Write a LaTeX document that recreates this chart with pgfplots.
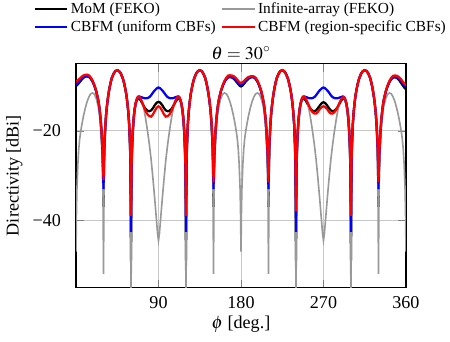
\documentclass[border=0pt]{standalone}
\usepackage{mathptmx}
\usepackage[no-math]{fontspec}
\setmainfont{Liberation Serif}
\usepackage{pgfplots}
\usepackage{pgfplotstable}
\pgfplotsset{compat=1.18}
\pgfplotstableread{
phi K G B R
0 -9.9 -47 -9.65 -9.0
0.5 -9.85 -38 -9.6 -8.95
1 -9.8 -33 -9.55 -8.9
2 -9.55 -27.5 -9.35 -8.7
3 -9.3 -24 -9.1 -8.5
4 -9.05 -21.8 -8.85 -8.3
5 -8.8 -20.3 -8.6 -8.1
6 -8.55 -19 -8.4 -7.9
8 -8.1 -16.8 -8.05 -7.6
10 -7.85 -15 -7.85 -7.45
12 -7.7 -13.5 -7.8 -7.4
14 -7.8 -12.4 -7.9 -7.55
16 -8.2 -11.7 -8.3 -8.0
18 -8.85 -11.5 -8.95 -8.7
20 -9.8 -11.8 -9.9 -9.7
22 -11.1 -12.7 -11.15 -11.0
24 -12.9 -14.3 -12.9 -12.8
25 -14.1 -15.5 -14.1 -14.0
26 -15.8 -17.2 -15.7 -15.6
27 -17.9 -19.6 -17.8 -17.6
28 -21.0 -23.2 -20.8 -20.5
29 -25.5 -29 -25.0 -24.5
29.5 -29.5 -34.5 -28.5 -27.5
30 -37 -52 -33 -31
30.5 -28 -33 -27 -26
31 -23.5 -26 -23 -22.5
32 -19 -19.5 -18.8 -18.5
33 -16 -16.3 -15.9 -15.8
34 -14 -14.2 -14 -13.9
35 -12.4 -12.5 -12.35 -12.3
36 -11.05 -11.1 -11.05 -11.0
37 -9.95 -10 -9.95 -9.9
38 -9.0 -9.05 -9.0 -9.0
39 -8.2 -8.25 -8.2 -8.2
41 -7.2 -7.2 -7.2 -7.2
43 -6.6 -6.6 -6.6 -6.6
45 -6.4 -6.4 -6.4 -6.4
47 -6.6 -6.6 -6.6 -6.6
49 -7.2 -7.2 -7.2 -7.2
51 -8.2 -8.2 -8.2 -8.2
52 -8.9 -8.95 -8.9 -8.9
53 -9.8 -9.85 -9.8 -9.8
54 -10.8 -10.9 -10.8 -10.8
55 -12.0 -12.1 -12.0 -12.0
56 -13.65 -13.7 -13.65 -13.6
57 -15.7 -15.8 -15.7 -15.6
58 -18.6 -18.9 -18.5 -18.4
59 -24 -25 -23.5 -23
59.5 -31 -33 -29.5 -28
60 -49 -62 -42.6 -39
60.5 -32 -36 -30 -29
61 -25 -28 -24.5 -24
62 -20 -22 -19.8 -19.5
63 -17 -18.6 -17 -16.8
64 -15.2 -16.3 -15.1 -15.0
65 -14 -14.7 -13.9 -13.8
66 -13.3 -13.6 -13.1 -13.0
67 -12.9 -12.9 -12.6 -12.5
68 -12.8 -12.5 -12.35 -12.3
69 -12.85 -12.3 -12.3 -12.35
70 -13.0 -12.4 -12.35 -12.6
72 -13.7 -13.3 -12.5 -13.5
74 -14.5 -15 -12.65 -14.6
76 -15.1 -17.3 -12.7 -15.6
78 -15.5 -20 -12.65 -16.3
80 -15.6 -23 -12.45 -16.7
82 -15.4 -26.5 -12.0 -16.8
84 -14.9 -30.8 -11.4 -16.3
86 -14.2 -35.5 -10.9 -15.5
88 -13.7 -40.5 -10.5 -14.8
89 -13.55 -43 -10.35 -14.6
90 -13.5 -44.5 -10.3 -14.5
91 -13.55 -43 -10.35 -14.6
92 -13.7 -40.5 -10.5 -14.8
94 -14.2 -35.5 -10.9 -15.5
96 -14.9 -30.8 -11.4 -16.3
98 -15.4 -26.5 -12.0 -16.8
100 -15.6 -23 -12.45 -16.7
102 -15.5 -20 -12.65 -16.3
104 -15.1 -17.3 -12.7 -15.6
106 -14.5 -15 -12.65 -14.6
108 -13.7 -13.3 -12.5 -13.5
110 -13.0 -12.4 -12.35 -12.6
111 -12.85 -12.3 -12.3 -12.35
112 -12.8 -12.5 -12.35 -12.3
113 -12.9 -12.9 -12.6 -12.5
114 -13.3 -13.6 -13.1 -13.0
115 -14 -14.7 -13.9 -13.8
116 -15.2 -16.3 -15.1 -15.0
117 -17 -18.6 -17 -16.8
118 -20 -22 -19.8 -19.5
119 -25 -28 -24.5 -24
119.5 -32 -36 -30 -29
120 -49 -62 -42.6 -39
120.5 -31 -33 -29.5 -28
121 -24 -25 -23.5 -23
122 -18.6 -18.9 -18.5 -18.4
123 -15.7 -15.8 -15.7 -15.6
124 -13.65 -13.7 -13.65 -13.6
125 -12.0 -12.1 -12.0 -12.0
126 -10.8 -10.9 -10.8 -10.8
127 -9.8 -9.85 -9.8 -9.8
128 -8.9 -8.95 -8.9 -8.9
129 -8.2 -8.2 -8.2 -8.2
131 -7.2 -7.2 -7.2 -7.2
133 -6.6 -6.6 -6.6 -6.6
135 -6.4 -6.4 -6.4 -6.4
137 -6.6 -6.6 -6.6 -6.6
139 -7.2 -7.2 -7.2 -7.2
141 -8.2 -8.25 -8.2 -8.2
142 -9.0 -9.05 -9.0 -9.0
143 -9.95 -10 -9.95 -9.9
144 -11.05 -11.1 -11.05 -11.0
145 -12.4 -12.5 -12.35 -12.3
146 -14 -14.2 -14 -13.9
147 -16 -16.3 -15.9 -15.8
148 -19 -19.5 -18.8 -18.5
149 -23.5 -26 -23 -22.5
149.5 -28 -33 -27 -26
150 -37 -52 -33 -31.5
150.5 -29.5 -34.5 -28.5 -27.5
151 -25.5 -29 -25.0 -24.5
152 -21.0 -23.2 -20.8 -20.5
153 -17.9 -19.6 -17.8 -17.6
154 -15.8 -17.2 -15.7 -15.6
155 -14.1 -15.5 -14.1 -14.0
156 -12.9 -14.3 -12.9 -12.8
158 -11.15 -12.7 -11.2 -11.05
160 -9.9 -11.8 -10.0 -9.8
162 -8.95 -11.5 -9.05 -8.8
164 -8.3 -11.7 -8.4 -8.1
166 -7.9 -12.4 -8.0 -7.6
168 -7.85 -13.5 -7.95 -7.55
170 -8.0 -15 -8.0 -7.6
172 -8.3 -16.8 -8.2 -7.75
174 -8.75 -19 -8.55 -8.1
175 -9.0 -20.3 -8.8 -8.3
176 -9.25 -21.8 -9.05 -8.55
177 -9.5 -24 -9.3 -8.8
178 -9.75 -27.5 -9.5 -9.0
179 -9.95 -33 -9.65 -9.2
179.5 -10.0 -38 -9.7 -9.25
180 -10.05 -47 -9.75 -9.3
180.5 -10.0 -38 -9.7 -9.25
181 -9.95 -33 -9.65 -9.2
182 -9.75 -27.5 -9.5 -9.05
183 -9.5 -24 -9.3 -8.85
184 -9.25 -21.8 -9.05 -8.65
185 -9.0 -20.3 -8.8 -8.45
186 -8.75 -19 -8.55 -8.25
188 -8.35 -16.8 -8.25 -7.95
190 -8.05 -15 -8.05 -7.8
192 -7.9 -13.5 -7.95 -7.75
194 -7.95 -12.4 -8.0 -7.8
196 -8.3 -11.7 -8.35 -8.1
198 -8.95 -11.5 -9.0 -8.75
200 -9.85 -11.8 -9.95 -9.75
202 -11.1 -12.7 -11.15 -11.0
204 -12.9 -14.3 -12.9 -12.8
205 -14.1 -15.5 -14.1 -14.0
206 -15.8 -17.2 -15.7 -15.6
207 -17.9 -19.6 -17.8 -17.6
208 -21.0 -23.2 -20.8 -20.5
209 -25.5 -29 -25.0 -24.5
209.5 -29.5 -34.5 -28.5 -27.5
210 -37 -52 -33 -31.5
210.5 -28 -33 -27 -26
211 -23.5 -26 -23 -22.5
212 -19 -19.5 -18.8 -18.5
213 -16 -16.3 -15.9 -15.8
214 -14 -14.2 -14 -13.9
215 -12.4 -12.5 -12.35 -12.3
216 -11.05 -11.1 -11.05 -11.0
217 -9.95 -10 -9.95 -9.9
218 -9.0 -9.05 -9.0 -9.0
219 -8.2 -8.25 -8.2 -8.2
221 -7.2 -7.2 -7.2 -7.2
223 -6.6 -6.6 -6.6 -6.6
225 -6.4 -6.4 -6.4 -6.4
227 -6.6 -6.6 -6.6 -6.6
229 -7.2 -7.2 -7.2 -7.2
231 -8.2 -8.2 -8.2 -8.2
232 -8.9 -8.95 -8.9 -8.9
233 -9.8 -9.85 -9.8 -9.8
234 -10.8 -10.9 -10.8 -10.8
235 -12.0 -12.1 -12.0 -12.0
236 -13.65 -13.7 -13.65 -13.6
237 -15.7 -15.8 -15.7 -15.6
238 -18.6 -18.9 -18.5 -18.4
239 -24 -25 -23.5 -23
239.5 -31 -33 -29.5 -28
240 -49 -62 -42.6 -38
240.5 -32 -36 -30 -29
241 -25 -28 -24.5 -24
242 -20 -22 -19.8 -19.5
243 -17 -18.6 -17 -16.8
244 -15.2 -16.3 -15.1 -15.0
245 -14 -14.7 -13.9 -13.8
246 -13.3 -13.6 -13.1 -13.0
247 -12.9 -12.9 -12.6 -12.5
248 -12.8 -12.5 -12.35 -12.3
249 -12.85 -12.3 -12.3 -12.35
250 -13.0 -12.4 -12.35 -12.55
252 -13.7 -13.3 -12.5 -13.3
254 -14.5 -15 -12.65 -14.3
256 -15.1 -17.3 -12.7 -15.2
258 -15.5 -20 -12.65 -15.8
260 -15.6 -23 -12.45 -16.1
262 -15.4 -26.5 -12.0 -16.1
264 -14.9 -30.8 -11.4 -15.7
266 -14.3 -35.5 -10.9 -15.1
268 -13.8 -40.5 -10.5 -14.7
269 -13.65 -43 -10.35 -14.55
270 -13.6 -44.5 -10.3 -14.5
271 -13.65 -43 -10.35 -14.55
272 -13.8 -40.5 -10.5 -14.7
274 -14.3 -35.5 -10.9 -15.1
276 -14.9 -30.8 -11.4 -15.7
278 -15.4 -26.5 -12.0 -16.1
280 -15.6 -23 -12.45 -16.1
282 -15.5 -20 -12.65 -15.8
284 -15.1 -17.3 -12.7 -15.2
286 -14.5 -15 -12.65 -14.4
288 -13.7 -13.3 -12.5 -13.5
290 -13.0 -12.4 -12.35 -12.7
291 -12.85 -12.3 -12.3 -12.5
292 -12.8 -12.5 -12.35 -12.45
293 -12.9 -12.9 -12.6 -12.6
294 -13.3 -13.6 -13.1 -13.05
295 -14 -14.7 -13.9 -13.85
296 -15.2 -16.3 -15.1 -15.0
297 -17 -18.6 -17 -16.8
298 -20 -22 -19.8 -19.5
299 -25 -28 -24.5 -24
299.5 -32 -36 -30 -29
300 -49 -62 -42.6 -39
300.5 -31 -33 -29.5 -28
301 -24 -25 -23.5 -23
302 -18.6 -18.9 -18.5 -18.4
303 -15.7 -15.8 -15.7 -15.6
304 -13.65 -13.7 -13.65 -13.6
305 -12.0 -12.1 -12.0 -12.0
306 -10.8 -10.9 -10.8 -10.8
307 -9.8 -9.85 -9.8 -9.8
308 -8.9 -8.95 -8.9 -8.9
309 -8.2 -8.2 -8.2 -8.2
311 -7.2 -7.2 -7.2 -7.2
313 -6.6 -6.6 -6.6 -6.6
315 -6.4 -6.4 -6.4 -6.4
317 -6.6 -6.6 -6.6 -6.6
319 -7.2 -7.2 -7.2 -7.2
321 -8.2 -8.25 -8.2 -8.2
322 -9.0 -9.05 -9.0 -9.0
323 -9.95 -10 -9.95 -9.9
324 -11.05 -11.1 -11.05 -11.0
325 -12.4 -12.5 -12.35 -12.3
326 -14 -14.2 -14 -13.9
327 -16 -16.3 -15.9 -15.8
328 -19 -19.5 -18.8 -18.5
329 -23.5 -26 -23 -22.5
329.5 -28 -33 -27 -26
330 -37 -52 -33 -31.5
330.5 -29.5 -34.5 -28.5 -27.5
331 -25.5 -29 -25.0 -24.5
332 -21.0 -23.2 -20.8 -20.5
333 -17.9 -19.6 -17.8 -17.6
334 -15.8 -17.2 -15.7 -15.6
335 -14.1 -15.5 -14.1 -14.0
336 -12.9 -14.3 -12.9 -12.8
338 -11.15 -12.7 -11.2 -11.05
340 -9.9 -11.8 -10.0 -9.8
342 -8.95 -11.5 -9.05 -8.8
344 -8.3 -11.7 -8.4 -8.1
346 -8.0 -12.4 -8.0 -7.65
348 -7.95 -13.5 -7.95 -7.6
350 -8.15 -15 -8.05 -7.65
352 -8.5 -16.8 -8.3 -7.9
354 -9.05 -19 -8.7 -8.3
355 -9.35 -20.3 -8.95 -8.55
356 -9.65 -21.8 -9.2 -8.8
357 -9.95 -24 -9.5 -9.1
358 -10.25 -27.5 -9.75 -9.35
359 -10.5 -33 -10.0 -9.6
359.5 -10.55 -38 -10.05 -9.65
360 -10.6 -47 -10.1 -9.7
}\patterndata
\begin{document}
\begin{tikzpicture}
\begin{axis}[
  scale only axis,
  width=182.6pt, height=123.6pt,
  xmin=0, xmax=360, ymin=-55, ymax=-5,
  xtick={90,180,270,360},
  xticklabels={90,180,270,360},
  ytick={-40,-20},
  yticklabels={−40,−20},
  xticklabel style={yshift=-1.8pt},
  yticklabel style={xshift=-4.8pt},
  ylabel style={yshift=-1.2pt},
  xlabel style={yshift=3pt},
  grid=major,
  grid style={color=black!22, line width=0.5pt},
  axis line style={line width=0.6pt},
  xlabel={$\phi$ [deg.]\rule[-4pt]{0pt}{4pt}},
  ylabel={Directivity [dBi]},
  title={$\theta=30^\circ$},
  every axis title shift=0pt,
  title style={yshift=-1pt},
  legend columns=2,
  legend cell align=left,
  legend image code/.code={\draw[#1] (0cm,0cm) -- (0.63cm,0cm);},
  legend style={at={(0.5,1)}, yshift=15pt, anchor=south, draw=none, fill=none,
    inner ysep=0pt, inner xsep=1pt,
    font=\fontsize{8.5}{10}\selectfont,
    nodes={inner sep=1.3pt},
    /tikz/every even column/.append style={column sep=1.6pt}},
]
\addplot[black, line width=1.25pt] table[x=phi,y=K]{\patterndata};
\addlegendentry{MoM (FEKO)}
\addplot[black!40, line width=0.9pt] table[x=phi,y=G]{\patterndata};
\addlegendentry{Infinite-array (FEKO)}
\addplot[blue, line width=1.25pt] table[x=phi,y=B]{\patterndata};
\addlegendentry{CBFM (uniform CBFs)}
\addplot[red, line width=1.25pt] table[x=phi,y=R]{\patterndata};
\addlegendentry{CBFM (region-specific CBFs)}
\end{axis}
\end{tikzpicture}
\end{document}
